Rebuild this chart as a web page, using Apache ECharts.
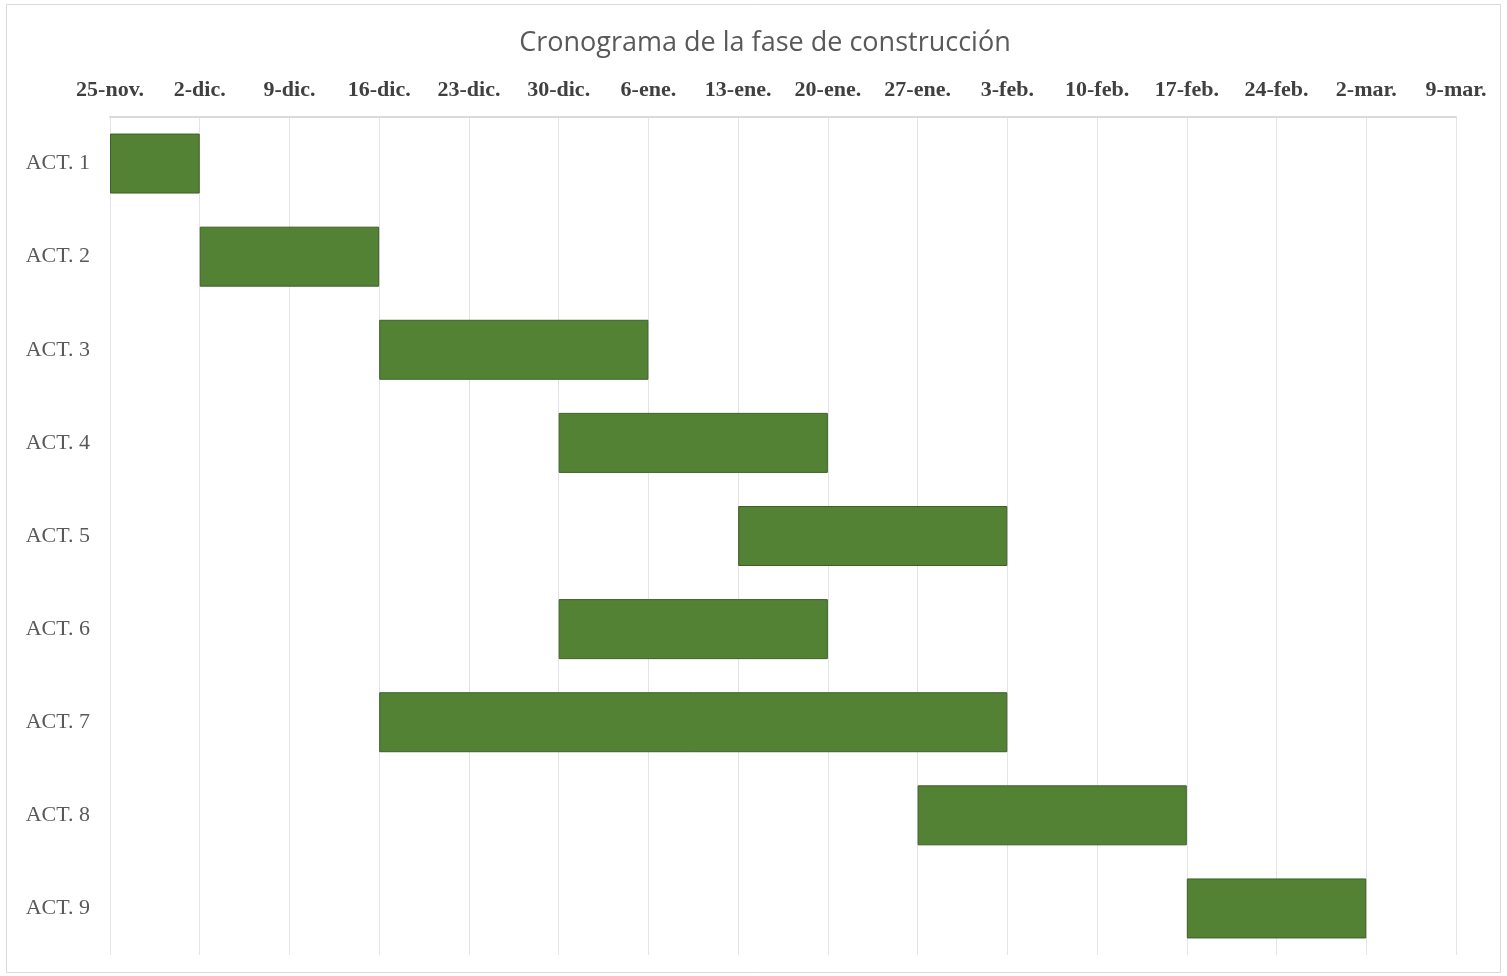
<!DOCTYPE html>
<html>
<head>
<meta charset="utf-8">
<script src="https://cdn.jsdelivr.net/npm/echarts@6/dist/echarts.min.js"></script>
<style>
  html, body { margin: 0; padding: 0; background: #fff; }
  #main { width: 1507px; height: 976px; }
</style>
</head>
<body>
<div id="main"></div>
<script>
// actividades y fechas (dias contados desde 25-nov.)
var activities = ['ACT. 1', 'ACT. 2', 'ACT. 3', 'ACT. 4', 'ACT. 5', 'ACT. 6', 'ACT. 7', 'ACT. 8', 'ACT. 9'];
var startDays = [0, 7, 21, 35, 49, 35, 21, 63, 84];
var durations = [7, 14, 21, 21, 21, 21, 49, 21, 14];
var tickLabels = ['25-nov.', '2-dic.', '9-dic.', '16-dic.', '23-dic.', '30-dic.', '6-ene.', '13-ene.',
  '20-ene.', '27-ene.', '3-feb.', '10-feb.', '17-feb.', '24-feb.', '2-mar.', '9-mar.'];

var myChart = echarts.init(document.getElementById('main'));

var option = {
  backgroundColor: '#ffffff',
  animation: false,
  title: {
    text: 'Cronograma de la fase de construcción',
    left: 760,
    textAlign: 'center',
    top: 25,
    textStyle: {
      fontFamily: 'Open Sans',
      fontWeight: 'normal',
      fontSize: 27,
      color: '#595959'
    }
  },
  graphic: [{
    type: 'rect',
    shape: { x: 6.5, y: 4.5, width: 1494, height: 968 },
    style: { fill: 'none', stroke: '#d9d9d9', lineWidth: 1 },
    silent: true
  }],
  grid: {
    left: 110,
    right: 51,
    top: 117,
    bottom: 21
  },
  xAxis: {
    type: 'value',
    position: 'top',
    min: 0,
    max: 105,
    interval: 7,
    axisLine: { show: true, lineStyle: { color: '#d9d9e0', width: 2 } },
    axisTick: { show: false },
    axisLabel: {
      margin: 16,
      fontFamily: 'Liberation Serif',
      fontWeight: 'bold',
      fontSize: 22,
      color: '#404040',
      formatter: function (v) {
        return tickLabels[Math.round(v / 7)];
      }
    },
    splitLine: { show: true, lineStyle: { color: '#e3e3e8', width: 1 } }
  },
  yAxis: {
    type: 'category',
    data: activities,
    inverse: true,
    axisLine: { show: false },
    axisTick: { show: false },
    axisLabel: {
      margin: 20,
      fontFamily: 'Liberation Serif',
      fontSize: 22,
      color: '#595959'
    }
  },
  series: [
    {
      // base invisible
      name: 'inicio',
      type: 'bar',
      stack: 'gantt',
      barWidth: 60,
      itemStyle: { color: 'transparent' },
      emphasis: { disabled: true },
      data: startDays
    },
    {
      name: 'duracion',
      type: 'bar',
      stack: 'gantt',
      barWidth: 60,
      itemStyle: {
        color: '#548235',
        borderColor: '#3d5f27',
        borderWidth: 1
      },
      data: durations
    }
  ]
};

myChart.setOption(option);
</script>
</body>
</html>
